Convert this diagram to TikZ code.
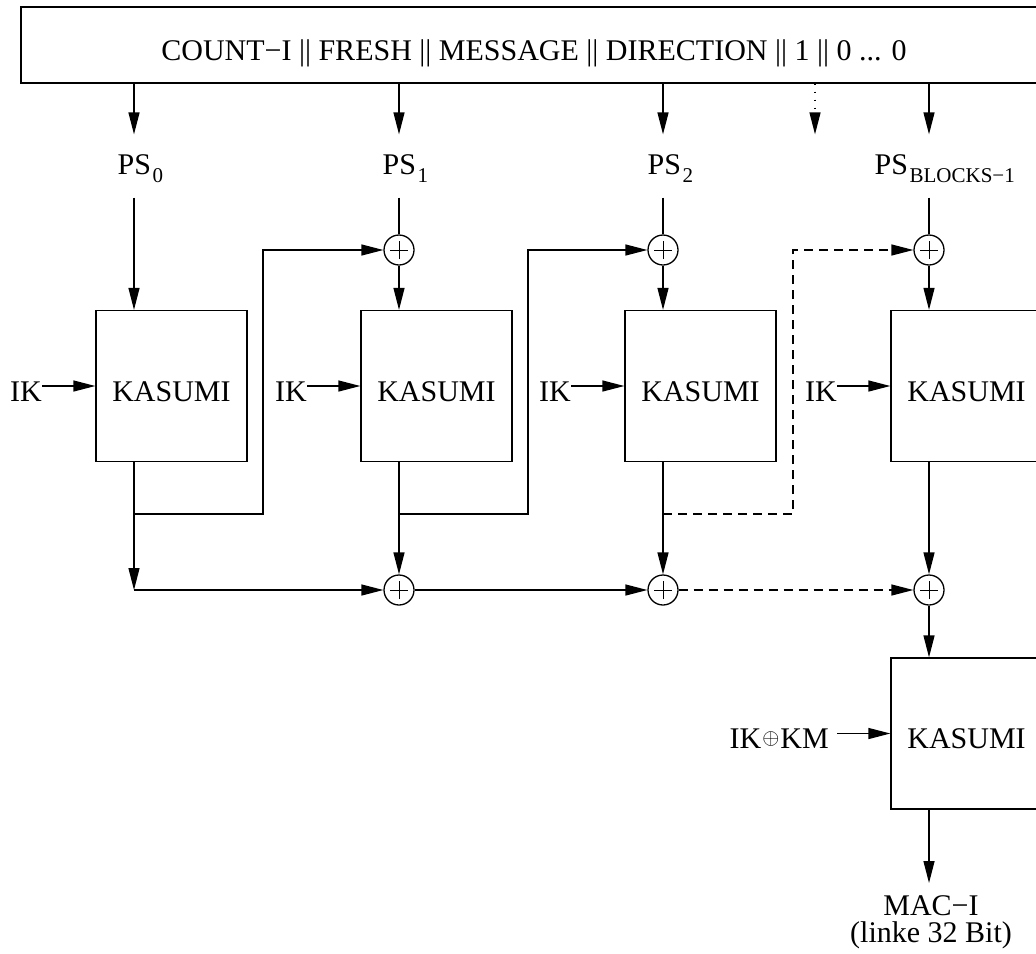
\documentclass[tikz,border=0pt]{standalone}
\usepackage{fontspec}
\setmainfont{Liberation Serif}
\usetikzlibrary{arrows.meta,positioning}
\newcommand\psub[1]{\kern0.8pt\raisebox{-4pt}{\fontsize{10.5pt}{12pt}\selectfont #1}}

\begin{document}
\begin{tikzpicture}[x=0.5pt,y=-0.5pt,line width=0.65pt,
  >={Triangle[length=11pt,width=5.5pt]},
  font=\fontsize{15pt}{18pt}\selectfont,
  kasumi/.style={draw,minimum size=75.5pt,inner sep=0pt,text height=15pt,text depth=0pt},
  xor/.style={draw,circle,minimum size=15pt,inner sep=0pt,
    path picture={\draw[line width=0.5pt]
      ([xshift=-4.5pt]path picture bounding box.center) -- ([xshift=4.5pt]path picture bounding box.center)
      ([yshift=-4.5pt]path picture bounding box.center) -- ([yshift=4.5pt]path picture bounding box.center);}},
  key/.style={inner sep=0pt,text height=15pt,text depth=0pt},
  pslabel/.style={anchor=west,inner sep=0pt,minimum height=31pt,text height=10pt,text depth=2pt},
  dashpart/.style={dash pattern=on 4.5pt off 3pt}]
\useasboundingbox (0,0) rectangle (1036,953);
\clip (0,0) rectangle (1036,953);

% message block
\node[draw,minimum width=513pt,minimum height=38pt,inner sep=0pt,text height=15pt,text depth=0pt] (msg) at (534,45)
  {COUNT−I || FRESH || MESSAGE || DIRECTION || 1 || 0 ... 0};
\coordinate (c0) at (134,0);
\coordinate (c1) at (399,0);
\coordinate (c2) at (663,0);
\coordinate (c3) at (929,0);
\coordinate (cd) at (815,0);

\node[pslabel] (ps0) at (117,166) {PS\psub{0}};
\node[pslabel] (ps1) at (382,166) {PS\psub{1}};
\node[pslabel] (ps2) at (647,166) {PS\psub{2}};
\node[pslabel] (ps3) at (874,166) {PS\psub{BLOCKS−1}};

\node[xor] (xa1) at (399,250) {};
\node[xor] (xa2) at (663,250) {};
\node[xor] (xa3) at (929,250) {};
\node[xor] (xb1) at (399,590) {};
\node[xor] (xb2) at (663,590) {};
\node[xor] (xb3) at (929,590) {};

\node[kasumi] (k0) at (171.5,386) {KASUMI};
\node[kasumi] (k1) at (436.5,386) {KASUMI};
\node[kasumi] (k2) at (700.5,386) {KASUMI};
\node[kasumi] (k3) at (966.5,386) {KASUMI};
\node[kasumi] (kf) at (966.5,733.5) {KASUMI};

\foreach \i in {0,...,3}{
  \node[key,left=26.5pt of k\i] (ik\i) {IK};
  \draw[->] (ik\i) -- (k\i);
}
\node[key,inner xsep=4pt,left=26.5pt of kf] (km) {IK\kern0.5pt\raisebox{2pt}{$\scriptstyle\oplus$}\kern0.5pt KM};
\draw[->] (km) -- (kf);
\node[align=center,anchor=north,inner sep=0pt,inner ysep=6pt,font=\fontsize{15pt}{13.5pt}\selectfont] (mac) at (931,883)
  {MAC−I\\(linke 32 Bit)};

% blocks into the chain
\foreach \c/\p in {c0/ps0,c1/ps1,c2/ps2,c3/ps3}
  \draw[->] (msg.south -| \c) -- (\p.north -| \c);
\draw[->,dash pattern=on 0.6pt off 3.4pt] (msg.south -| cd) -- (ps3.north -| cd);
\draw[->] (ps0.south -| c0) -- (k0.north -| c0);
\foreach \i in {1,2,3}{
  \draw (ps\i.south -| xa\i) -- (xa\i);
  \draw[->] (xa\i) -- (k\i.north -| xa\i);
}

% outputs
\coordinate (j0) at (134,514);
\coordinate (r0) at (263,514);
\coordinate (b0) at (134,590);
\coordinate (j1) at (399,514);
\coordinate (r1) at (528,514);
\coordinate (j2) at (663,514);
\coordinate (r2) at (793,514);
\draw[->] (k0.south -| c0) -- (b0);
\draw[->] (b0) -- (xb1);
\draw[->] (j0) -- (r0) |- (xa1);
\draw[->] (k1.south -| xb1) -- (xb1);
\draw[->] (j1) -- (r1) |- (xa2);
\draw[->] (k2.south -| xb2) -- (xb2);
\draw[->,dashpart] (j2) -- (r2) |- (xa3);
\draw[->] (k3.south -| xb3) -- (xb3);
\draw[->] (xb1) -- (xb2);
\draw[->,dashpart] (xb2) -- (xb3);
\draw[->] (xb3) -- (kf.north -| xb3);
\draw[->] (kf.south -| xb3) -- (mac.north -| xb3);
\end{tikzpicture}
\end{document}
